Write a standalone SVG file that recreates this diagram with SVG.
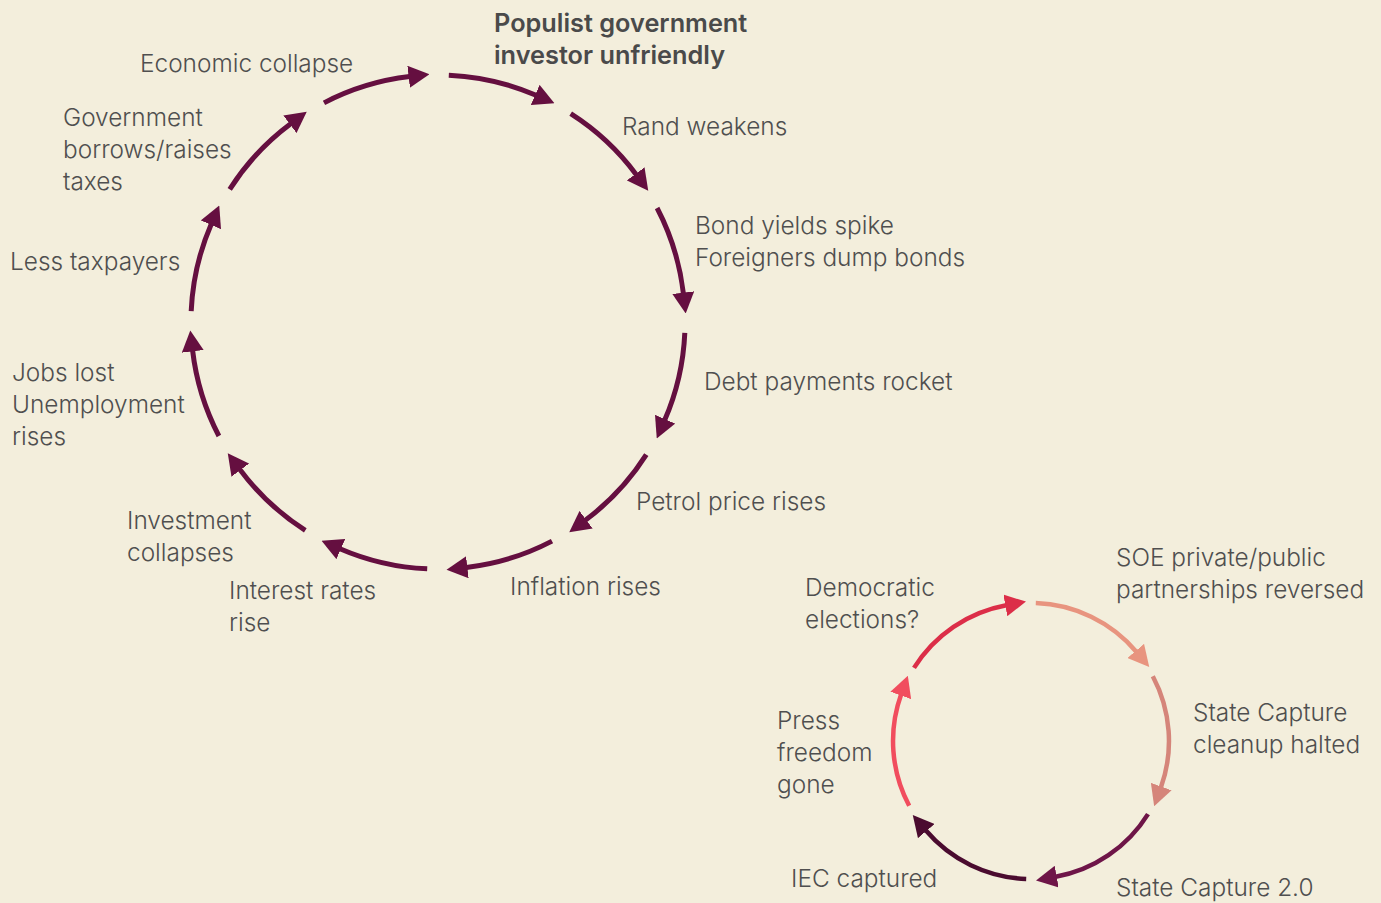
<svg xmlns="http://www.w3.org/2000/svg" width="1381" height="903" viewBox="0 0 1381 903">
  <style>
    .lbl { font-family: Inter, "Noto Sans", "Liberation Sans", sans-serif; font-size: 24.4px; font-weight: 300; fill: #4f4f4f; }
    .title { font-size: 25.3px; font-weight: 600; fill: #4a4a4a; }
    .ring { fill: none; stroke: #650F40; stroke-width: 5; }
    .ring2 { fill: none; stroke-width: 4.5; }
  </style>
  <defs>
    <marker id="ah" markerUnits="userSpaceOnUse" markerWidth="21" markerHeight="22" refX="1" refY="11" orient="auto">
      <path d="M0,0 L21,11 L0,22 z" fill="#650F40"/>
    </marker>
    <marker id="ah-crimson" markerUnits="userSpaceOnUse" markerWidth="21" markerHeight="22" refX="1" refY="11" orient="auto">
      <path d="M0,0 L21,11 L0,22 z" fill="#DC2E48"/>
    </marker>
    <marker id="ah-salmon" markerUnits="userSpaceOnUse" markerWidth="21" markerHeight="22" refX="1" refY="11" orient="auto">
      <path d="M0,0 L21,11 L0,22 z" fill="#E8947F"/>
    </marker>
    <marker id="ah-rose" markerUnits="userSpaceOnUse" markerWidth="21" markerHeight="22" refX="1" refY="11" orient="auto">
      <path d="M0,0 L21,11 L0,22 z" fill="#D5857A"/>
    </marker>
    <marker id="ah-plum" markerUnits="userSpaceOnUse" markerWidth="21" markerHeight="22" refX="1" refY="11" orient="auto">
      <path d="M0,0 L21,11 L0,22 z" fill="#6E1548"/>
    </marker>
    <marker id="ah-dark" markerUnits="userSpaceOnUse" markerWidth="21" markerHeight="22" refX="1" refY="11" orient="auto">
      <path d="M0,0 L21,11 L0,22 z" fill="#4A0B2F"/>
    </marker>
    <marker id="ah-red" markerUnits="userSpaceOnUse" markerWidth="21" markerHeight="22" refX="1" refY="11" orient="auto">
      <path d="M0,0 L21,11 L0,22 z" fill="#F14D5E"/>
    </marker>
  </defs>

  <rect x="0" y="0" width="1381" height="903" fill="#F3EEDC"/>

  <!-- large cycle: twelve arcs on a ring centred at (438,322), r=247 -->
  <g id="connectors">
    <path class="ring" marker-end="url(#ah)" d="M324.0,102.9 A247,247 0 0 1 409.6,76.6"/>
    <path class="ring" marker-end="url(#ah)" d="M448.8,75.2 A247,247 0 0 1 536.1,95.3"/>
    <path class="ring" marker-end="url(#ah)" d="M570.7,113.7 A247,247 0 0 1 636.3,174.7"/>
    <path class="ring" marker-end="url(#ah)" d="M657.1,208.0 A247,247 0 0 1 683.4,293.6"/>
    <path class="ring" marker-end="url(#ah)" d="M684.8,332.8 A247,247 0 0 1 664.7,420.1"/>
    <path class="ring" marker-end="url(#ah)" d="M646.3,454.7 A247,247 0 0 1 585.3,520.3"/>
    <path class="ring" marker-end="url(#ah)" d="M552.0,541.1 A247,247 0 0 1 466.4,567.4"/>
    <path class="ring" marker-end="url(#ah)" d="M427.2,568.8 A247,247 0 0 1 339.9,548.7"/>
    <path class="ring" marker-end="url(#ah)" d="M305.3,530.3 A247,247 0 0 1 239.7,469.3"/>
    <path class="ring" marker-end="url(#ah)" d="M218.9,436.0 A247,247 0 0 1 192.6,350.4"/>
    <path class="ring" marker-end="url(#ah)" d="M191.2,311.2 A247,247 0 0 1 211.3,223.9"/>
    <path class="ring" marker-end="url(#ah)" d="M229.7,189.3 A247,247 0 0 1 290.7,123.7"/>

    <!-- small cycle: six arcs on a ring centred at (1031,741), r=138 -->
    <path class="ring2" stroke="#DC2E48" marker-end="url(#ah-crimson)" d="M914.0,667.9 A138,138 0 0 1 1006.3,605.2"/>
    <path class="ring2" stroke="#E8947F" marker-end="url(#ah-salmon)" d="M1035.8,603.1 A138,138 0 0 1 1136.3,651.7"/>
    <path class="ring2" stroke="#D5857A" marker-end="url(#ah-rose)" d="M1152.8,676.2 A138,138 0 0 1 1160.9,787.5"/>
    <path class="ring2" stroke="#6E1548" marker-end="url(#ah-plum)" d="M1148.0,814.1 A138,138 0 0 1 1055.7,876.8"/>
    <path class="ring2" stroke="#4A0B2F" marker-end="url(#ah-dark)" d="M1026.2,878.9 A138,138 0 0 1 925.7,830.3"/>
    <path class="ring2" stroke="#F14D5E" marker-end="url(#ah-red)" d="M909.2,805.8 A138,138 0 0 1 901.1,694.5"/>
  </g>

  <!-- large cycle labels -->
  <g id="populist"><text class="lbl title" x="494" y="32">Populist government</text><text class="lbl title" x="494" y="64">investor unfriendly</text></g>
  <g id="rand"><text class="lbl" x="622" y="135">Rand weakens</text></g>
  <g id="bonds"><text class="lbl" x="695" y="234">Bond yields spike</text><text class="lbl" x="695" y="266">Foreigners dump bonds</text></g>
  <g id="debt"><text class="lbl" x="704" y="390">Debt payments rocket</text></g>
  <g id="petrol"><text class="lbl" x="636" y="510">Petrol price rises</text></g>
  <g id="inflation"><text class="lbl" x="510" y="595">Inflation rises</text></g>
  <g id="interest"><text class="lbl" x="229" y="599">Interest rates</text><text class="lbl" x="229" y="631">rise</text></g>
  <g id="investment"><text class="lbl" x="127" y="529">Investment</text><text class="lbl" x="127" y="561">collapses</text></g>
  <g id="jobs"><text class="lbl" x="12" y="381">Jobs lost</text><text class="lbl" x="12" y="413">Unemployment</text><text class="lbl" x="12" y="445">rises</text></g>
  <g id="taxpayers"><text class="lbl" x="10" y="270">Less taxpayers</text></g>
  <g id="borrows"><text class="lbl" x="63" y="126">Government</text><text class="lbl" x="63" y="158">borrows/raises</text><text class="lbl" x="63" y="190">taxes</text></g>
  <g id="collapse"><text class="lbl" x="140" y="72">Economic collapse</text></g>

  <!-- small cycle labels -->
  <g id="soe"><text class="lbl" x="1116" y="566">SOE private/public</text><text class="lbl" x="1116" y="598">partnerships reversed</text></g>
  <g id="cleanup"><text class="lbl" x="1193" y="721">State Capture</text><text class="lbl" x="1193" y="753">cleanup halted</text></g>
  <g id="capture2"><text class="lbl" x="1116" y="896">State Capture 2.0</text></g>
  <g id="iec"><text class="lbl" x="791" y="887">IEC captured</text></g>
  <g id="press"><text class="lbl" x="777" y="729">Press</text><text class="lbl" x="777" y="761">freedom</text><text class="lbl" x="777" y="793">gone</text></g>
  <g id="elections"><text class="lbl" x="805" y="596">Democratic</text><text class="lbl" x="805" y="628">elections?</text></g>
</svg>
